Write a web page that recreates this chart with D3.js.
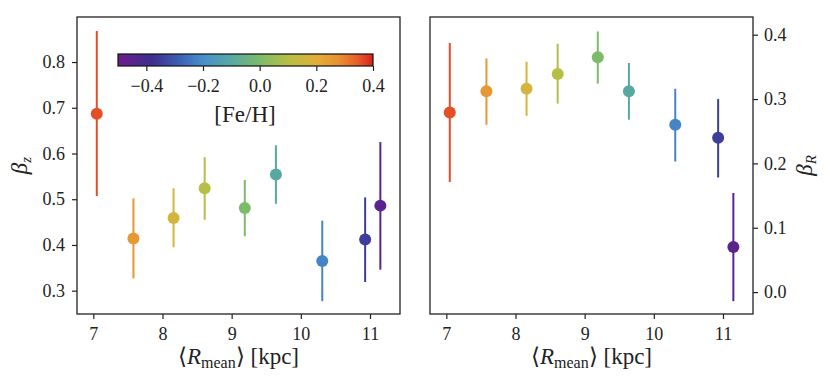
<!DOCTYPE html>
<html><head><meta charset="utf-8">
<script src="https://cdn.jsdelivr.net/npm/d3@7"></script>
<style>body{margin:0;background:#fff}</style>
</head><body>
<script>
const rMean = [7.05, 7.58, 8.16, 8.61, 9.19, 9.64, 10.31, 10.93, 11.15];
const feh   = [0.36, 0.26, 0.17, 0.10, 0.00, -0.10, -0.22, -0.35, -0.46];
const betaZ    = [0.687, 0.414, 0.459, 0.524, 0.481, 0.554, 0.365, 0.412, 0.486];
const betaZLo  = [0.507, 0.327, 0.395, 0.455, 0.419, 0.490, 0.277, 0.319, 0.346];
const betaZHi  = [0.868, 0.502, 0.524, 0.592, 0.542, 0.618, 0.453, 0.504, 0.625];
const betaR    = [0.279, 0.312, 0.316, 0.339, 0.365, 0.312, 0.260, 0.240, 0.070];
const betaRLo  = [0.171, 0.260, 0.274, 0.293, 0.324, 0.268, 0.203, 0.178, -0.014];
const betaRHi  = [0.387, 0.363, 0.358, 0.386, 0.405, 0.356, 0.316, 0.300, 0.154];
const xTicks = [7, 8, 9, 10, 11];
const zTicks = [0.3, 0.4, 0.5, 0.6, 0.7, 0.8];
const rTicks = [0.0, 0.1, 0.2, 0.3, 0.4];
const cbTicks = [-0.4, -0.2, 0.0, 0.2, 0.4];
const cmapStops = [-0.5, -0.38, -0.28, -0.2, -0.1, 0.0, 0.1, 0.2, 0.28, 0.35, 0.4];
const cmapColors = ["#6c1c8e", "#3d2f8c", "#3c62b6", "#4890cc", "#58a8a2", "#7cbb68", "#b7be45", "#dfb03a", "#e98f30", "#e65a28", "#d8201f"];

const W = 830, H = 387;
const svg = d3.select("body").append("svg").attr("width", W).attr("height", H)
  .attr("font-family", "Liberation Serif").style("font-family", '"Liberation Serif"');
const color = d3.scaleLinear().domain(cmapStops).range(cmapColors).interpolate(d3.interpolateRgb);
const fmt = d => d < 0 ? "\u2212" + Math.abs(d).toFixed(1) : d.toFixed(1);
const data = rMean.map((r, i) => ({r, f: feh[i], z: betaZ[i], zl: betaZLo[i], zh: betaZHi[i], b: betaR[i], bl: betaRLo[i], bh: betaRHi[i]}));

function setFont(sel) {
  return sel.attr("font-family", "Liberation Serif").style("font-family", '"Liberation Serif"');
}
function styleAxis(a) {
  setFont(a);
  a.select(".domain").remove();
  a.selectAll("line").attr("stroke", "#222").attr("stroke-width", 1.2);
  setFont(a.selectAll("text")).attr("font-size", 18).attr("fill", "#222");
}

function panel(x0, x1, yDom, yT, key, lo, hi, side, ysub) {
  const top = 17, bot = 314;
  const x = d3.scaleLinear().domain([6.764, 11.434]).range([x0, x1]);
  const y = d3.scaleLinear().domain(yDom).range([bot, top]);
  const g = svg.append("g");
  const xa = g.append("g").attr("transform", `translate(0,${bot})`).call(d3.axisBottom(x).tickValues(xTicks).tickFormat(d3.format("d")).tickSize(5).tickPadding(8));
  const ya = side === "left"
    ? g.append("g").attr("transform", `translate(${x0},0)`).call(d3.axisLeft(y).tickValues(yT).tickFormat(d => d.toFixed(1)).tickSize(5).tickPadding(7))
    : g.append("g").attr("transform", `translate(${x1},0)`).call(d3.axisRight(y).tickValues(yT).tickFormat(d => d.toFixed(1)).tickSize(5).tickPadding(6));
  styleAxis(xa); styleAxis(ya);
  g.append("rect").attr("x", x0).attr("y", top).attr("width", x1 - x0).attr("height", bot - top)
    .attr("fill", "none").attr("stroke", "#222").attr("stroke-width", 1.3);
  g.selectAll(".eb").data(data).join("line")
    .attr("x1", d => x(d.r)).attr("x2", d => x(d.r))
    .attr("y1", d => y(d[lo])).attr("y2", d => y(d[hi]))
    .attr("stroke", d => color(d.f)).attr("stroke-width", 2);
  g.selectAll(".pt").data(data).join("circle")
    .attr("cx", d => x(d.r)).attr("cy", d => y(d[key])).attr("r", 6)
    .attr("fill", d => color(d.f));
  const xl = setFont(g.append("text")).attr("x", (x0 + x1) / 2).attr("y", 364).attr("text-anchor", "middle").attr("font-size", 23).attr("fill", "#222");
  xl.append("tspan").text("\u27E8");
  xl.append("tspan").attr("font-style", "italic").text("R");
  xl.append("tspan").attr("font-size", 16).attr("dy", 4).text("mean");
  xl.append("tspan").attr("dy", -4).text("\u27E9 [kpc]");
  const lx = side === "left" ? 27 : 812;
  const yl = setFont(g.append("text")).attr("transform", `translate(${lx},${(top + bot) / 2}) rotate(-90)`).attr("text-anchor", "middle").attr("font-size", 23).attr("fill", "#222");
  yl.append("tspan").attr("font-style", "italic").text("\u03B2");
  yl.append("tspan").attr("font-style", "italic").attr("font-size", 15).attr("dy", 4).text(ysub);
}

panel(77, 400, [0.249, 0.8985], zTicks, "z", "zl", "zh", "left", "z");
panel(430, 753, [-0.034, 0.4275], rTicks, "b", "bl", "bh", "right", "R");

// colorbar
const cbx = d3.scaleLinear().domain([-0.5, 0.4]).range([118, 373]);
const grad = svg.append("defs").append("linearGradient").attr("id", "cb").attr("x1", "0%").attr("x2", "100%");
d3.range(0, 1.0001, 0.02).forEach(t => {
  grad.append("stop").attr("offset", (t * 100) + "%").attr("stop-color", color(-0.5 + 0.9 * t));
});
svg.append("rect").attr("x", 118).attr("y", 54).attr("width", 255).attr("height", 12).attr("fill", "url(#cb)").attr("stroke", "#111").attr("stroke-width", 1.2);
const cba = svg.append("g").attr("transform", "translate(0,66)").call(d3.axisBottom(cbx).tickValues(cbTicks).tickFormat(fmt).tickSize(5).tickPadding(8));
styleAxis(cba);
setFont(svg.append("text")).attr("x", 245).attr("y", 122).attr("text-anchor", "middle").attr("font-size", 23).attr("fill", "#222").text("[Fe/H]");
</script></body></html>
